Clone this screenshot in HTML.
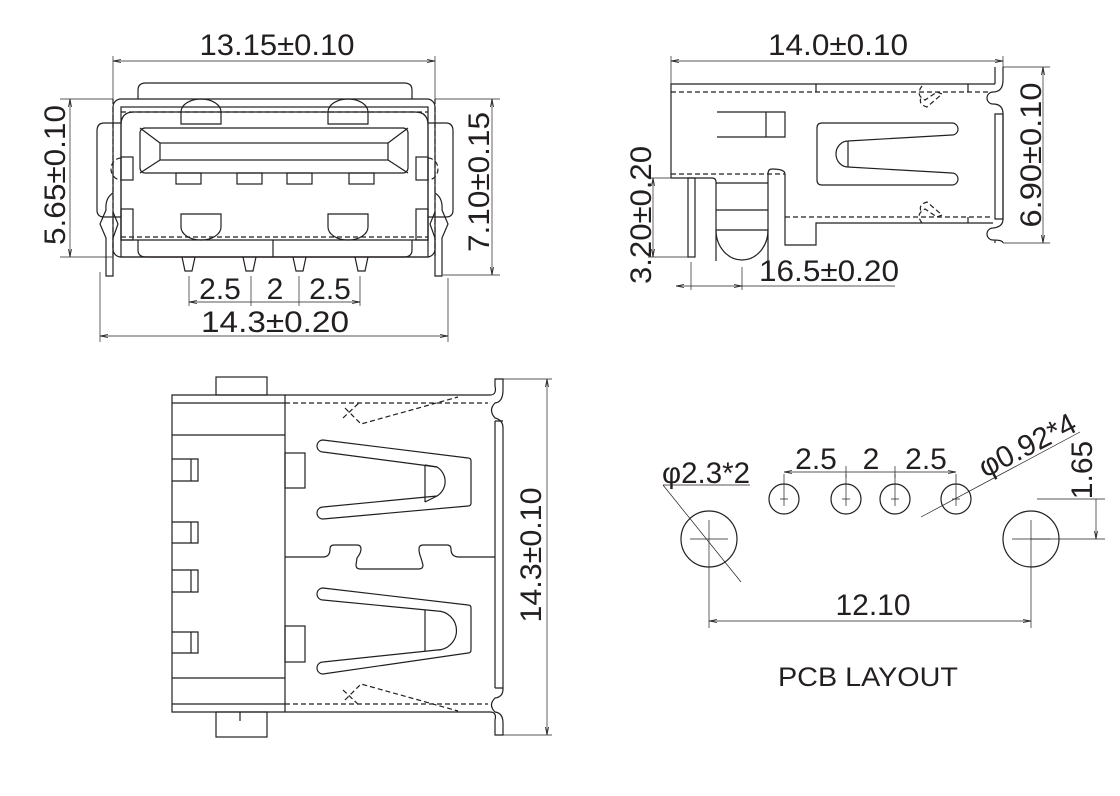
<!DOCTYPE html>
<html><head><meta charset="utf-8"><style>
html,body{margin:0;padding:0;background:#fff;}
svg{display:block;}
text{font-family:"Liberation Sans",sans-serif;fill:#231f20;}
</style></head><body>
<svg width="1120" height="796" viewBox="0 0 1120 796" xmlns="http://www.w3.org/2000/svg">
<defs>
<marker id="a" markerWidth="8" markerHeight="6" refX="8" refY="3" orient="auto-start-reverse" markerUnits="userSpaceOnUse"><path d="M0,1.5 L8,3 L0,4.5" fill="none" stroke="#231f20" stroke-width="0.8"/></marker>
</defs>
<g fill="none" stroke="#231f20" stroke-width="1.2">
<!-- ===== FRONT VIEW ===== -->
<path d="M138,99 V90 Q138,83 146,83 H404 Q412,83 412,90 V99"/>
<rect x="113" y="99" width="322" height="158" rx="8"/>
<rect x="121" y="107" width="307" height="150"/>
<path d="M121,240 V125 Q121,112 134,112 H415 Q428,112 428,125 V240 Z"/>
<rect x="140" y="128" width="268" height="45" rx="5"/>
<rect x="160" y="143" width="228" height="17"/>
<path d="M140,128 L160,143 M408,128 L388,143 M140,173 L160,160 M408,173 L388,160"/>
<rect x="176" y="173" width="25" height="11"/><rect x="237" y="173" width="25" height="11"/>
<rect x="287" y="173" width="25" height="11"/><rect x="349" y="173" width="25" height="11"/>
<path d="M181,124 V112 A20,13 0 0 1 221,112 V124 Z"/><path d="M328,124 V112 A20,13 0 0 1 368,112 V124 Z"/>
<path d="M181,214 H221 V227 A20,13 0 0 1 181,227 Z"/><path d="M328,214 H368 V227 A20,13 0 0 1 328,227 Z"/>
<path d="M138,240 V250 Q138,257 146,257 H404 Q412,257 412,250 V240"/>
<path d="M273,240 V257"/>
<rect x="121" y="157" width="12" height="23"/><rect x="416" y="157" width="12" height="23"/>
<rect x="121" y="209" width="12" height="31"/><rect x="416" y="209" width="12" height="31"/>
<path d="M121,123 H104 Q97,123 97,131 V210 Q97,217 104,217 H121"/>
<path d="M428,123 H446 Q453,123 453,131 V210 Q453,217 446,217 H428"/>
<path d="M113,193 Q105,198 106,210 L100,224 L106,238 V276 H113 V238 L118,224 L113,212"/>
<path d="M435,193 Q443,198 442,210 L448,224 L442,238 V276 H435 V238 L430,224 L435,212"/>
<path d="M182,257 L185,271 H192 L195,257 M243,257 L246,271 H253 L256,257 M293,257 L296,271 H303 L306,257 M355,257 L358,271 H365 L368,257"/>
<g stroke-dasharray="5,3"><path d="M113,99 V257 M435,99 V257 M121,237 H428 M121,112 H428"/>
<path d="M121,158 A10,11 0 0 0 121,180 M428,158 A10,11 0 0 1 428,180"/></g>
<!-- ===== SIDE VIEW ===== -->
<path d="M671,178 V84 H995 M995,67 V84"/>
<path d="M1003,67 V80 Q1003,92 993,92 A6,6 0 0 0 993,104 Q1003,104 1003,114 V219 Q1003,227 993,228 A6,6 0 0 0 993,240 Q1003,240 1003,243 M995,243 V240"/>
<path d="M995,114 H1003 V219 H995 Z"/>
<path d="M816,84 V92 M968,84 V92 M968,217 V223"/>
<path d="M671,178 H712 Q716,178 716,182 V261 M768,261 V174 Q768,169 772,169 Q785,169 785,174 V245 H816 V223 H993"/>
<path d="M716,230 A26,30 0 0 0 768,230 M716,183 H768 M716,210 H768 M716,230 H768"/>
<rect x="688" y="178" width="7" height="79"/>
<path d="M717,112 H785 V137 H717 M766,112 V137"/>
<path d="M822,123 H952 A6,6 0 0 1 952,135 L848,141 A12,13 0 0 0 848,167 L952,173 A6,6 0 0 1 952,185 H822 Q817,185 817,180 V128 Q817,123 822,123 Z"/>
<path d="M848,141 V167"/>
<g stroke-dasharray="5,3"><path d="M671,92 H990 M671,174 H785 M785,217 H990"/>
<path d="M922,86 Q915,95 925,100 L937,92 L942,94 L927,107 Q917,104 922,96"/>
<path d="M922,223 Q915,214 925,209 L937,217 L942,215 L927,202 Q917,205 922,213"/></g>
<!-- ===== TOP VIEW ===== -->
<rect x="216" y="377" width="51" height="18"/>
<rect x="216" y="712" width="51" height="25"/><path d="M240,712 V721"/>
<path d="M172,395 H285 V712 H172 Z M172,403 H285 M172,704 H285 M172,435 H285 M172,678 H285"/>
<path d="M172,459 H198 V481 H172 M172,522 H198 V543 H172 M172,570 H198 V592 H172 M172,632 H198 V653 H172 M191,459 V481 M191,522 V543 M191,570 V592 M191,632 V653"/>
<rect x="285" y="453" width="20" height="35"/><rect x="285" y="626" width="20" height="36"/>
<path d="M285,395 H490 Q497,395 495,386 V379 H503 V390 Q503,402 495,403 Q488,410 495,418 Q503,420 503,428 V689 Q503,697 495,698 Q488,705 495,712 Q503,713 503,723 V735 H495 V720 Q497,712 490,712 H285"/>
<path d="M495,421 H503 M495,688 H503 M495,421 V688"/>
<path d="M285,557 H323 Q330,557 330,549 Q330,545 334,545 H357 Q361,545 361,549 Q361,553 357,558 L356,565 Q356,569 360,569 H419 Q423,569 423,565 L421,558 Q419,553 419,549 Q419,545 423,545 H447 Q451,545 451,549 Q451,557 459,557 H495"/>
<path d="M323,440 L468,458 Q471,458 471,461 V503 Q471,506 468,506 L323,519 A6,6 0 0 1 323,507 L437,496 A17,17 0 0 0 437,467 L323,452 A6,6 0 0 1 323,440 Z"/>
<path d="M425,465 V502 M425,465 L437,467 M425,502 L437,496"/>
<path d="M323,588 L468,605 Q471,605 471,608 V650 Q471,653 468,653 L323,674 A6,6 0 0 1 323,662 L437,650 A17,17 0 0 0 437,611 L323,600 A6,6 0 0 1 323,588 Z"/>
<path d="M425,610 V651"/>
<g stroke-dasharray="5,3"><path d="M285,403 H488 M285,704 H488"/>
<path d="M345,408 L361,424 L458,397 M343,418 L360,402 M345,700 L361,684 L458,711 M343,690 L360,706"/></g>
<!-- ===== PCB ===== -->
<circle cx="784" cy="499" r="15"/><circle cx="846" cy="499" r="15"/><circle cx="895" cy="499" r="15"/><circle cx="956" cy="499" r="15"/>
<circle cx="709" cy="539" r="28"/><circle cx="1031" cy="539" r="28"/>
</g>
<g fill="none" stroke="#231f20" stroke-width="0.7">
<path d="M784,474 V506 M780,499 H788 M846,474 V506 M842,499 H850 M895,474 V506 M891,499 H899 M956,474 V506 M952,499 H960"/>
<path d="M690,539 H728 M709,520 V628 M1012,539 H1050 M1031,520 V628"/>
<path d="M663,485 H750 M663,485 L741,582 M921,517 L1080,432 M1037,499 H1105 M1031,539 H1105"/>
<path d="M784,472 H956" marker-start="url(#a)" marker-end="url(#a)"/>
<path d="M846,466 V478 M895,466 V478"/>
<path d="M709,621 H1031" marker-start="url(#a)" marker-end="url(#a)"/>
<path d="M1096,499 V539" marker-end="url(#a)"/>
<path d="M113,61 H435" marker-start="url(#a)" marker-end="url(#a)"/>
<path d="M113,56 V99 M435,56 V99"/>
<path d="M70,99 V257" marker-start="url(#a)" marker-end="url(#a)"/>
<path d="M60,99 H113 M60,257 H113"/>
<path d="M492,99 V275" marker-start="url(#a)" marker-end="url(#a)"/>
<path d="M435,99 H500 M443,275 H500"/>
<path d="M189,302 H360" marker-start="url(#a)" marker-end="url(#a)"/>
<path d="M189,276 V306 M251,276 V306 M299,276 V306 M360,276 V306"/>
<path d="M100,336 H448" marker-start="url(#a)" marker-end="url(#a)"/>
<path d="M100,272 V342 M448,278 V342"/>
<path d="M671,61 H1003" marker-start="url(#a)" marker-end="url(#a)"/>
<path d="M671,56 V84 M1003,56 V67"/>
<path d="M1043,67 V243" marker-start="url(#a)" marker-end="url(#a)"/>
<path d="M1003,67 H1050 M1003,243 H1050"/>
<path d="M653,178 V257" marker-start="url(#a)" marker-end="url(#a)"/>
<path d="M648,178 H671 M648,257 H688"/>
<path d="M676,286 H895 M691,286 H742" marker-start="url(#a)" marker-end="url(#a)"/>
<path d="M691,262 V290 M742,267 V290"/>
<path d="M547,379 V735" marker-start="url(#a)" marker-end="url(#a)"/>
<path d="M503,379 H552 M503,735 H552"/>
</g>
<g font-size="30">
<text x="277" y="55" text-anchor="middle" textLength="155" lengthAdjust="spacingAndGlyphs">13.15±0.10</text>
<text transform="translate(65,175) rotate(-90)" text-anchor="middle" textLength="140" lengthAdjust="spacingAndGlyphs">5.65±0.10</text>
<text transform="translate(489,182) rotate(-90)" text-anchor="middle" textLength="140" lengthAdjust="spacingAndGlyphs">7.10±0.15</text>
<text x="220" y="299" text-anchor="middle">2.5</text>
<text x="275" y="299" text-anchor="middle">2</text>
<text x="330" y="299" text-anchor="middle">2.5</text>
<text x="275" y="332" text-anchor="middle" textLength="148" lengthAdjust="spacingAndGlyphs">14.3±0.20</text>
<text x="838" y="55" text-anchor="middle" textLength="140" lengthAdjust="spacingAndGlyphs">14.0±0.10</text>
<text transform="translate(1041,155) rotate(-90)" text-anchor="middle" textLength="145" lengthAdjust="spacingAndGlyphs">6.90±0.10</text>
<text transform="translate(651,215) rotate(-90)" text-anchor="middle" textLength="138" lengthAdjust="spacingAndGlyphs">3.20±0.20</text>
<text x="829" y="281" text-anchor="middle" textLength="140" lengthAdjust="spacingAndGlyphs">16.5±0.20</text>
<text transform="translate(541,555) rotate(-90)" text-anchor="middle" textLength="135" lengthAdjust="spacingAndGlyphs">14.3±0.10</text>
<text x="816" y="469" text-anchor="middle">2.5</text>
<text x="871" y="469" text-anchor="middle">2</text>
<text x="926" y="469" text-anchor="middle">2.5</text>
<text x="873" y="615" text-anchor="middle">12.10</text>
<text x="662" y="483" textLength="88" lengthAdjust="spacingAndGlyphs">φ2.3*2</text>
<text transform="translate(985,478) rotate(-27)" textLength="105" lengthAdjust="spacingAndGlyphs">φ0.92*4</text>
<text transform="translate(1092,470) rotate(-90)" text-anchor="middle">1.65</text>
<text x="868" y="686" text-anchor="middle" font-size="27" textLength="180" lengthAdjust="spacingAndGlyphs">PCB LAYOUT</text>
</g>
</svg>
</body></html>
